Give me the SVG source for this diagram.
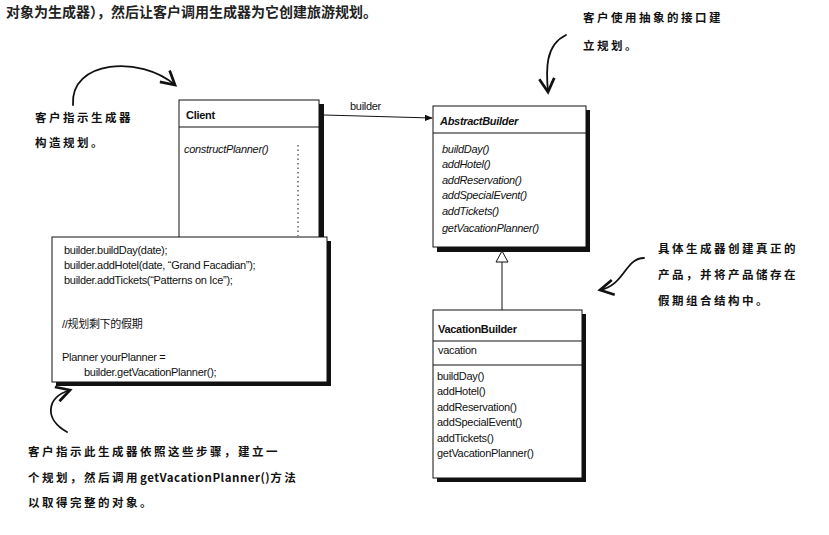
<svg xmlns="http://www.w3.org/2000/svg" width="829" height="535" viewBox="0 0 829 535">
<style>
.t{font-family:"Liberation Sans","Noto Sans CJK SC",sans-serif;font-size:11px;fill:#111;letter-spacing:-0.3px}
.i{font-style:italic}
.b{font-weight:bold}
.h{font-family:"Noto Sans CJK SC",sans-serif;font-size:11.5px;fill:#111;font-weight:bold;letter-spacing:2.5px}
.box{fill:#fff;stroke:#111;stroke-width:1}
.sh{fill:#111}
.ln{stroke:#111;stroke-width:1;fill:none}
.cur{stroke:#111;stroke-width:1.8;fill:none;stroke-linecap:round}
</style>
<defs>
<marker id="ah" viewBox="0 0 10 10" refX="9" refY="5" markerWidth="8" markerHeight="8" orient="auto"><path d="M0,1 L10,5 L0,9 z" fill="#111"/></marker>
<marker id="hw" viewBox="0 0 12 12" refX="10" refY="6" markerWidth="10" markerHeight="10" orient="auto"><path d="M1,1 L10,6 L1,11" fill="none" stroke="#111" stroke-width="1.8"/></marker>
</defs>
<rect width="829" height="535" fill="#fff"/>
<text x="6" y="17" font-family="'Noto Sans CJK SC',sans-serif" font-size="14" font-weight="bold" fill="#222">对象为生成器），然后让客户调用生成器为它创建旅游规划。</text>

<g id="client">
<rect class="sh" x="183" y="104" width="141" height="140"/>
<rect class="box" x="179" y="100" width="140" height="140"/>
<line class="ln" x1="179" y1="127" x2="319" y2="127"/>
<text class="t b" x="186" y="119">Client</text>
<text class="t i" x="184" y="153">constructPlanner()</text>
</g>

<g id="abstractbuilder">
<rect class="sh" x="437" y="110" width="153" height="142"/>
<rect class="box" x="433" y="106" width="153" height="141"/>
<line class="ln" x1="433" y1="133" x2="586" y2="133"/>
<text class="t b i" x="440" y="125">AbstractBuilder</text>
<text class="t i" x="442" y="153">buildDay()</text>
<text class="t i" x="442" y="168">addHotel()</text>
<text class="t i" x="442" y="184">addReservation()</text>
<text class="t i" x="442" y="199">addSpecialEvent()</text>
<text class="t i" x="442" y="215">addTickets()</text>
<text class="t i" x="442" y="232">getVacationPlanner()</text>
</g>

<g id="vacationbuilder">
<rect class="sh" x="437" y="314" width="149" height="168"/>
<rect class="box" x="433" y="310" width="149" height="168"/>
<line class="ln" x1="433" y1="341" x2="582" y2="341"/>
<line class="ln" x1="433" y1="365" x2="582" y2="365"/>
<text class="t b" x="438" y="333">VacationBuilder</text>
<text class="t" x="438" y="354">vacation</text>
<text class="t" x="437" y="380">buildDay()</text>
<text class="t" x="437" y="395">addHotel()</text>
<text class="t" x="437" y="411">addReservation()</text>
<text class="t" x="437" y="426">addSpecialEvent()</text>
<text class="t" x="437" y="442">addTickets()</text>
<text class="t" x="437" y="457">getVacationPlanner()</text>
</g>

<g id="note">
<rect class="sh" x="56" y="241" width="275" height="145"/>
<rect class="box" x="52" y="237" width="275" height="145"/>
<text class="t" x="64" y="254">builder.buildDay(date);</text>
<text class="t" x="64" y="269">builder.addHotel(date, “Grand Facadian”);</text>
<text class="t" x="64" y="284">builder.addTickets(“Patterns on Ice”);</text>
<text class="t" x="62" y="328">//规划剩下的假期</text>
<text class="t" x="62" y="361">Planner yourPlanner =</text>
<text class="t" x="84" y="376">builder.getVacationPlanner();</text>
</g>

<g id="connectors">
<line class="ln" x1="324" y1="115" x2="432" y2="118" stroke-width="1.5" marker-end="url(#ah)"/>
<text class="t" x="350" y="110">builder</text>
<line class="ln" x1="298" y1="145" x2="298" y2="236" stroke-dasharray="1.5,3"/>
<line class="ln" x1="502" y1="262" x2="502" y2="310"/>
<path d="M502,251 L508,262 L496,262 z" fill="#fff" stroke="#111"/>
</g>

<g id="annotations">
<text class="h" x="35" y="122">客户指示生成器</text>
<text class="h" x="35" y="147">构造规划。</text>
<path class="cur" d="M73,105 C70,60 140,55 175,85" marker-end="url(#hw)"/>
<text class="h" x="583" y="22">客户使用抽象的接口建</text>
<text class="h" x="583" y="50">立规划。</text>
<path class="cur" d="M566,35 C545,45 546,70 548,92" marker-end="url(#hw)"/>
<text class="h" x="658" y="253">具体生成器创建真正的</text>
<text class="h" x="658" y="279">产品，并将产品储存在</text>
<text class="h" x="658" y="305">假期组合结构中。</text>
<path class="cur" d="M644,258 C625,258 625,285 600,290" marker-end="url(#hw)"/>
<text class="h" x="28" y="456">客户指示此生成器依照这些步骤，建立一</text>
<text class="h" x="28" y="482">个规划，然后调用<tspan letter-spacing="0.5">getVacationPlanner()</tspan>方法</text>
<text class="h" x="28" y="507">以取得完整的对象。</text>
<path class="cur" d="M67,432 C45,420 45,398 70,390" marker-end="url(#hw)"/>
</g>
</svg>
